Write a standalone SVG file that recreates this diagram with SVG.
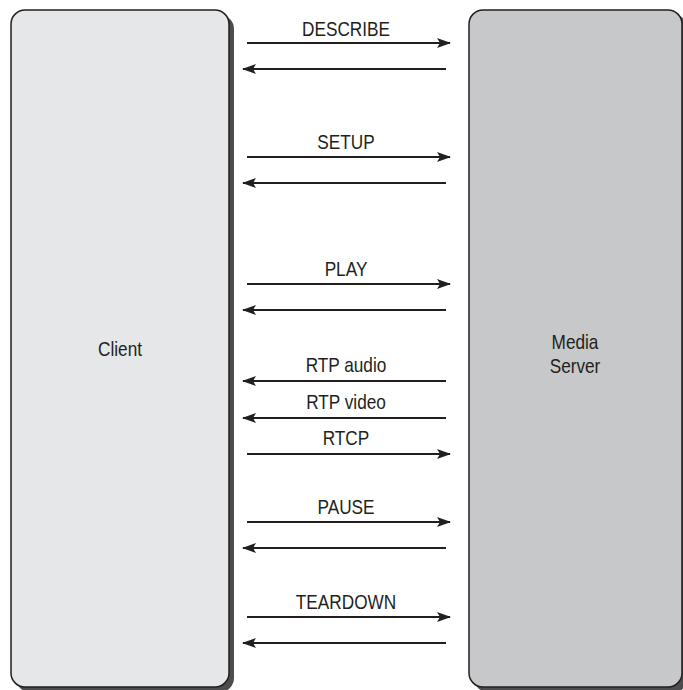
<svg xmlns="http://www.w3.org/2000/svg" width="683" height="690" viewBox="0 0 683 690">
<defs>
<style>
.lbl{font-family:"Liberation Sans",Arial,sans-serif;font-size:21px;fill:#231f20;text-anchor:middle}
.box{stroke:#231f20;stroke-width:1.5}
.shadow{fill:#4d4d4f}
.msg{stroke:#231f20;stroke-width:2;fill:none}
</style>
<marker id="ah" viewBox="0 0 14 10" refX="13" refY="5" markerWidth="14" markerHeight="10" markerUnits="userSpaceOnUse" orient="auto">
<path d="M0,0 L14,5 L0,10 L3,5 Z" fill="#231f20"/>
</marker>
</defs>
<rect width="683" height="690" fill="#ffffff"/>
<g id="client">
<rect class="shadow" x="16" y="15" width="218" height="677" rx="14"/>
<rect class="box" x="11" y="10" width="218" height="677" rx="14" fill="#e6e7e8"/>
<text class="lbl" transform="matrix(0.82 0 0 1 120 356)">Client</text>
</g>
<g id="server">
<rect class="shadow" x="474" y="15" width="214" height="677" rx="14"/>
<rect class="box" x="469" y="10" width="213" height="677" rx="14" fill="#c7c8ca"/>
<text class="lbl" transform="matrix(0.82 0 0 1 575 349)">Media</text>
<text class="lbl" transform="matrix(0.82 0 0 1 575 373)">Server</text>
</g>
<g id="connectors">
<line class="msg" x1="247" y1="43" x2="450" y2="43" marker-end="url(#ah)"/>
<line class="msg" x1="446" y1="69" x2="243" y2="69" marker-end="url(#ah)"/>
<line class="msg" x1="247" y1="157" x2="450" y2="157" marker-end="url(#ah)"/>
<line class="msg" x1="446" y1="183" x2="243" y2="183" marker-end="url(#ah)"/>
<line class="msg" x1="247" y1="284" x2="450" y2="284" marker-end="url(#ah)"/>
<line class="msg" x1="446" y1="310" x2="243" y2="310" marker-end="url(#ah)"/>
<line class="msg" x1="446" y1="381" x2="243" y2="381" marker-end="url(#ah)"/>
<line class="msg" x1="446" y1="418" x2="243" y2="418" marker-end="url(#ah)"/>
<line class="msg" x1="247" y1="454" x2="450" y2="454" marker-end="url(#ah)"/>
<line class="msg" x1="247" y1="522" x2="450" y2="522" marker-end="url(#ah)"/>
<line class="msg" x1="446" y1="548" x2="243" y2="548" marker-end="url(#ah)"/>
<line class="msg" x1="247" y1="617" x2="450" y2="617" marker-end="url(#ah)"/>
<line class="msg" x1="446" y1="643" x2="243" y2="643" marker-end="url(#ah)"/>
<text class="lbl" transform="matrix(0.82 0 0 1 346 36)">DESCRIBE</text>
<text class="lbl" transform="matrix(0.82 0 0 1 346 149)">SETUP</text>
<text class="lbl" transform="matrix(0.82 0 0 1 346 276)">PLAY</text>
<text class="lbl" transform="matrix(0.82 0 0 1 346 372)">RTP audio</text>
<text class="lbl" transform="matrix(0.82 0 0 1 346 409)">RTP video</text>
<text class="lbl" transform="matrix(0.82 0 0 1 346 445)">RTCP</text>
<text class="lbl" transform="matrix(0.82 0 0 1 346 514)">PAUSE</text>
<text class="lbl" transform="matrix(0.82 0 0 1 346 609)">TEARDOWN</text>
</g>
</svg>
